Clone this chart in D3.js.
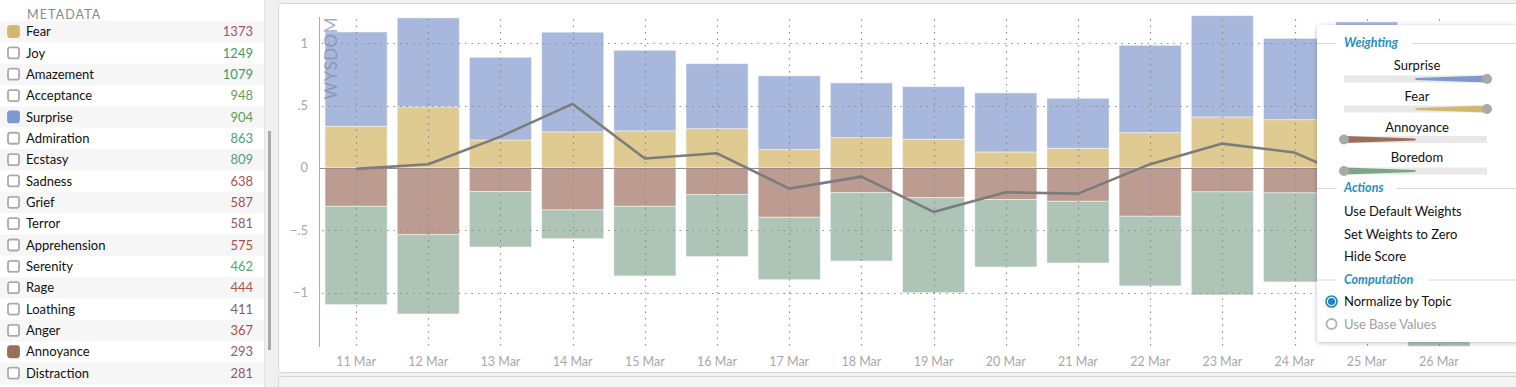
<!DOCTYPE html>
<html>
<head>
<meta charset="utf-8">
<script src="https://cdn.jsdelivr.net/npm/d3@7"></script>
<style>
  body { margin: 0; background: #f0f0f0; font-family: Lato, "Open Sans", sans-serif; }
  svg { display: block; }
</style>
</head>
<body>
<div id="chart"></div>
<script>
// ---- data ----
var dates = ["11 Mar", "12 Mar", "13 Mar", "14 Mar", "15 Mar", "16 Mar", "17 Mar", "18 Mar",
             "19 Mar", "20 Mar", "21 Mar", "22 Mar", "23 Mar", "24 Mar", "25 Mar", "26 Mar"];
var fear      = [0.334, 0.49, 0.224, 0.289, 0.297, 0.315, 0.147, 0.243, 0.229, 0.128, 0.157, 0.283, 0.409, 0.387, 0.35, 0.30];
var surprise  = [0.756, 0.713, 0.663, 0.799, 0.646, 0.521, 0.591, 0.439, 0.423, 0.473, 0.401, 0.70, 0.812, 0.652, 0.821, 0.70];
var annoyance = [-0.308, -0.535, -0.19, -0.337, -0.308, -0.214, -0.396, -0.198, -0.238, -0.254, -0.268, -0.388, -0.192, -0.20, -0.25, -0.30];
var boredom   = [-0.788, -0.636, -0.444, -0.23, -0.558, -0.497, -0.50, -0.548, -0.762, -0.54, -0.494, -0.558, -0.826, -0.714, -1.05, -1.13];
var score     = [-0.008, 0.029, 0.251, 0.513, 0.075, 0.117, -0.166, -0.07, -0.353, -0.196, -0.206, 0.03, 0.195, 0.123, -0.13, -0.43];

var yTicks = [-1, -0.5, 0, 0.5, 1];
var yTickLabels = ["\u22121", "\u2212.5", "0", ".5", "1"];

var metaNames  = ["Fear", "Joy", "Amazement", "Acceptance", "Surprise", "Admiration", "Ecstasy", "Sadness",
                  "Grief", "Terror", "Apprehension", "Serenity", "Rage", "Loathing", "Anger", "Annoyance", "Distraction"];
var metaCounts = [1373, 1249, 1079, 948, 904, 863, 809, 638, 587, 581, 575, 462, 444, 411, 367, 293, 281];
var metaTone   = ["#a2546b", "#3a9d6b", "#3a9d6b", "#6b9e5a", "#5c9e55", "#4aa073", "#4aa073", "#a6504f",
                  "#a6504f", "#8d5a6e", "#a6504f", "#5ba46e", "#a65a4c", "#8d5a6e", "#a6504f", "#8d5a6e", "#8d5a6e"];
var metaChecked = {"Fear": "#d4b76a", "Surprise": "#7d98cf", "Annoyance": "#9b6e5a"};

var weightNames   = ["Surprise", "Fear", "Annoyance", "Boredom"];
var weightValues  = [1, 1, -1, -1];
var weightColors  = ["#7d98cf", "#d4b76a", "#9b6e5a", "#7ba68a"];
var actionLabels  = ["Use Default Weights", "Set Weights to Zero", "Hide Score"];
var computeLabels = ["Normalize by Topic", "Use Base Values"];

var keys = ["fear", "surprise", "annoyance", "boredom"];
var barColors = {fear: "#dfca92", surprise: "#a7b8dc", annoyance: "#bc9c90", boredom: "#aec4b6"};

var rows = dates.map(function (d, i) {
    return {date: d, fear: fear[i], surprise: surprise[i], annoyance: annoyance[i], boredom: boredom[i]};
});

var W = 1516, H = 387;
var svg = d3.select("#chart").append("svg")
    .attr("width", W)
    .attr("height", H)
    .style("font-family", "Lato, 'Open Sans', sans-serif");

var defs = svg.append("defs");
var shadow = defs.append("filter").attr("id", "shadow")
    .attr("x", "-10%").attr("y", "-10%").attr("width", "130%").attr("height", "130%");
shadow.append("feDropShadow").attr("dx", 0).attr("dy", 1).attr("stdDeviation", 2.5)
    .attr("flood-color", "#000").attr("flood-opacity", 0.25);

// ---- left metadata panel ----
var left = svg.append("g");
left.append("rect").attr("x", 0).attr("y", 0).attr("width", 264).attr("height", H).attr("fill", "#fff");
left.append("line").attr("x1", 264.5).attr("x2", 264.5).attr("y1", 0).attr("y2", H)
    .attr("stroke", "#e2e2e2");

left.append("text")
    .attr("x", 27).attr("y", 18.5)
    .attr("font-size", "12.5px")
    .attr("letter-spacing", "1.1px")
    .attr("fill", "#8a8a8a")
    .text("METADATA");

var rowY = d3.scaleLinear().domain([0, 1]).range([31.5, 52.85]);

var metaRow = left.selectAll(".meta")
    .data(metaNames)
    .enter()
    .append("g")
    .attr("class", "meta")
    .attr("transform", function (d, i) { return "translate(0," + rowY(i) + ")"; });

metaRow.append("rect")
    .attr("x", 0).attr("y", -10.5).attr("width", 264).attr("height", 21.3)
    .attr("fill", function (d, i) { return i % 2 === 0 ? "#f6f6f6" : "#fff"; });

metaRow.append("rect")
    .attr("x", 8).attr("y", -5.5).attr("width", 11).attr("height", 11)
    .attr("rx", 2)
    .attr("fill", function (d) { return metaChecked[d] || "#fff"; })
    .attr("stroke", function (d) { return metaChecked[d] || "#aaa"; })
    .attr("stroke-width", 1.8);

metaRow.append("text")
    .attr("x", 26).attr("y", 0).attr("dy", "0.36em")
    .attr("font-size", "13px")
    .attr("fill", "#111")
    .text(function (d) { return d; });

metaRow.append("text")
    .attr("x", 253).attr("y", 0).attr("dy", "0.36em")
    .attr("font-size", "13px")
    .attr("text-anchor", "end")
    .attr("fill", function (d, i) { return metaTone[i]; })
    .text(function (d, i) { return metaCounts[i]; });

// scrollbar
left.append("rect").attr("x", 268).attr("y", 131).attr("width", 3).attr("height", 219)
    .attr("fill", "#a9a9a9");

// ---- main chart panel ----
svg.append("rect")
    .attr("x", 278.5).attr("y", 3.5).attr("width", 1245).attr("height", 369)
    .attr("rx", 3)
    .attr("fill", "#fff").attr("stroke", "#d6d6d6");
svg.append("rect")
    .attr("x", 278.5).attr("y", 376.5).attr("width", 1245).attr("height", 20)
    .attr("rx", 3)
    .attr("fill", "#f4f4f4").attr("stroke", "#d6d6d6");

var x = d3.scaleBand()
    .domain(dates)
    .range([320, 1475])
    .paddingInner(0.14)
    .paddingOuter(0.07);

var y = d3.scaleLinear()
    .domain([-1.436, 1.21])
    .range([347, 17]);

var plot = svg.append("g");

// stacked bars
var stack = d3.stack().keys(keys).offset(d3.stackOffsetDiverging);
var series = stack(rows);

plot.append("g")
    .selectAll("g")
    .data(series)
    .enter()
    .append("g")
    .attr("fill", function (d) { return barColors[d.key]; })
    .selectAll("rect")
    .data(function (d) { return d; })
    .enter()
    .append("rect")
    .attr("x", function (d) { return x(d.data.date); })
    .attr("width", x.bandwidth())
    .attr("y", function (d) { return y(Math.max(d[0], d[1])); })
    .attr("height", function (d) { return Math.abs(y(d[0]) - y(d[1])); })
    .attr("stroke", "#fff")
    .attr("stroke-opacity", 0.45)
    .attr("stroke-width", 1);

// WYSDOM watermark, over the bars
plot.append("text")
    .attr("transform", "translate(337,17) rotate(-90)")
    .attr("text-anchor", "end")
    .attr("font-size", "17px")
    .attr("letter-spacing", "0.5px")
    .attr("fill", "#7d8aa6")
    .attr("fill-opacity", 0.7)
    .text("WYSDOM");

// grid lines (dotted, drawn over bars)
plot.append("g")
    .selectAll("line")
    .data(yTicks.filter(function (t) { return t !== 0; }))
    .enter()
    .append("line")
    .attr("x1", 322).attr("x2", 1475)
    .attr("y1", function (d) { return Math.round(y(d)) + 0.5; })
    .attr("y2", function (d) { return Math.round(y(d)) + 0.5; })
    .attr("stroke", "#8c8c8c")
    .attr("stroke-width", 1.2)
    .attr("stroke-dasharray", "1.5,5");

plot.append("g")
    .selectAll("line")
    .data(dates)
    .enter()
    .append("line")
    .attr("x1", function (d) { return Math.round(x(d) + x.bandwidth() / 2) + 0.5; })
    .attr("x2", function (d) { return Math.round(x(d) + x.bandwidth() / 2) + 0.5; })
    .attr("y1", 19).attr("y2", 347)
    .attr("stroke", "#8c8c8c")
    .attr("stroke-width", 1.2)
    .attr("stroke-dasharray", "1.5,5");

// zero line
plot.append("line")
    .attr("x1", 319).attr("x2", 1475)
    .attr("y1", Math.round(y(0)) + 0.5).attr("y2", Math.round(y(0)) + 0.5)
    .attr("stroke", "#9a8a86");

// y axis
plot.append("line")
    .attr("x1", 319.5).attr("x2", 319.5)
    .attr("y1", 17).attr("y2", 347)
    .attr("stroke", "#ababab");

plot.append("g")
    .selectAll("text")
    .data(yTicks)
    .enter()
    .append("text")
    .attr("x", 308)
    .attr("y", function (d) { return y(d); })
    .attr("dy", "0.35em")
    .attr("text-anchor", "end")
    .attr("font-size", "13px")
    .attr("fill", "#a8a8a8")
    .text(function (d, i) { return yTickLabels[i]; });

// x labels
plot.append("g")
    .selectAll("text")
    .data(dates)
    .enter()
    .append("text")
    .attr("x", function (d) { return x(d) + x.bandwidth() / 2; })
    .attr("y", 362)
    .attr("dy", "0.35em")
    .attr("text-anchor", "middle")
    .attr("font-size", "12.5px")
    .attr("fill", "#a8a8a8")
    .text(function (d) { return d; });

// score line
var line = d3.line()
    .x(function (d, i) { return x(dates[i]) + x.bandwidth() / 2; })
    .y(function (d) { return y(d); });

plot.append("path")
    .datum(score)
    .attr("d", line)
    .attr("fill", "none")
    .attr("stroke", "#7c7c7c")
    .attr("stroke-width", 2.6)
    .attr("stroke-linejoin", "round");

// ---- weighting popup ----
var pop = svg.append("g");
pop.append("rect")
    .attr("x", 1317).attr("y", 25).attr("width", 220).attr("height", 317)
    .attr("rx", 4)
    .attr("fill", "#fff")
    .attr("filter", "url(#shadow)");

function header(label, yy, textEnd) {
    pop.append("line").attr("x1", 1317).attr("x2", 1336).attr("y1", yy + 0.5).attr("y2", yy + 0.5)
        .attr("stroke", "#d8d8d8");
    pop.append("line").attr("x1", textEnd).attr("x2", 1516).attr("y1", yy + 0.5).attr("y2", yy + 0.5)
        .attr("stroke", "#d8d8d8");
    pop.append("text")
        .attr("x", 1344).attr("y", yy).attr("dy", "0.35em")
        .attr("font-size", "12.5px")
        .attr("font-weight", "bold")
        .attr("font-style", "italic")
        .attr("fill", "#2490c4")
        .text(label);
}

header("Weighting", 43, 1412);
header("Actions", 188, 1397);
header("Computation", 279.5, 1428);

var wx = d3.scaleLinear().domain([-1, 1]).range([1344, 1487]);
var labelY = [65, 96, 127, 157];
var sliderY = [79, 109, 139.5, 171];

function wedge(x0, x1, yy) {
    // track shape: thin at the middle, thick at the ends
    var c = wx(0);
    var h0 = 1 + 2.6 * Math.abs(x0 - c) / (wx(1) - c);
    var h1 = 1 + 2.6 * Math.abs(x1 - c) / (wx(1) - c);
    return "M" + x0 + "," + (yy - h0) + "L" + x1 + "," + (yy - h1) +
           "L" + x1 + "," + (yy + h1) + "L" + x0 + "," + (yy + h0) + "Z";
}

weightNames.forEach(function (name, i) {
    var yy = sliderY[i];
    pop.append("text")
        .attr("x", 1417).attr("y", labelY[i]).attr("dy", "0.35em")
        .attr("text-anchor", "middle")
        .attr("font-size", "13px")
        .attr("fill", "#111")
        .text(name);
    pop.append("rect")
        .attr("x", wx(-1)).attr("y", yy - 3.5).attr("width", wx(1) - wx(-1)).attr("height", 7)
        .attr("fill", "#e8e8e8");
    pop.append("path").attr("d", wedge(wx(0), wx(weightValues[i]), yy)).attr("fill", weightColors[i]);
    pop.append("circle")
        .attr("cx", wx(weightValues[i])).attr("cy", yy).attr("r", 5)
        .attr("fill", "#a9a9a9");
});

pop.selectAll(".action")
    .data(actionLabels)
    .enter()
    .append("text")
    .attr("class", "action")
    .attr("x", 1344)
    .attr("y", function (d, i) { return 211.5 + i * 22.5; })
    .attr("dy", "0.35em")
    .attr("font-size", "13px")
    .attr("fill", "#111")
    .text(function (d) { return d; });

computeLabels.forEach(function (label, i) {
    var yy = 301.5 + i * 22.5;
    if (i === 0) {
        pop.append("circle").attr("cx", 1331.5).attr("cy", yy).attr("r", 5.5)
            .attr("fill", "#fff").attr("stroke", "#1f86bd").attr("stroke-width", 1.6);
        pop.append("circle").attr("cx", 1331.5).attr("cy", yy).attr("r", 3.6).attr("fill", "#1f86bd");
    } else {
        pop.append("circle").attr("cx", 1331.5).attr("cy", yy).attr("r", 5)
            .attr("fill", "#fff").attr("stroke", "#b5b5b5").attr("stroke-width", 2);
    }
    pop.append("text")
        .attr("x", 1344).attr("y", yy).attr("dy", "0.35em")
        .attr("font-size", "13px")
        .attr("fill", i === 0 ? "#111" : "#a0a0a0")
        .text(label);
});
</script>
</body>
</html>
